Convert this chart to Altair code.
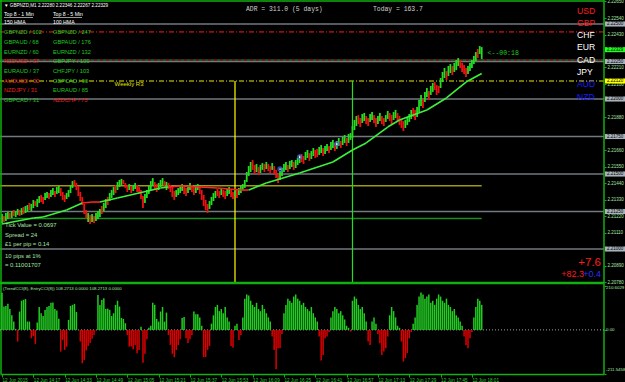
import altair as alt
import pandas as pd

BASE = 2.2
PT = 1e-5  # data below are in points (1e-5) above 2.20000

# ---- 1-minute candles (low / high in points above 2.20000) ----
lo = [1173,1180,1187,1200,1207,1207,1220,1213,1227,1220,
      1227,1233,1240,1247,1260,1253,1273,1287,1280,1307,
      1313,1300,1327,1340,1333,1347,1360,1347,1367,1373,
      1353,1327,1313,1333,1347,1373,1407,1420,1393,1353,
      1320,1293,1233,1200,1180,1167,1180,1173,1187,1200,
      1213,1233,1253,1273,1293,1320,1340,1360,1373,1393,
      1413,1427,1433,1407,1380,1393,1373,1387,1400,1380,
      1367,1333,1273,1307,1340,1367,1393,1420,1400,1380,
      1393,1413,1427,1407,1393,1400,1380,1347,1327,1347,
      1360,1373,1387,1367,1353,1373,1393,1380,1360,1373,
      1393,1367,1327,1287,1260,1240,1267,1293,1320,1340,
      1353,1340,1360,1347,1333,1353,1367,1347,1333,1353,
      1340,1360,1373,1393,1407,1447,1487,1513,1527,1500,
      1513,1493,1507,1527,1513,1533,1520,1507,1527,1500,
      1473,1440,1460,1487,1513,1527,1513,1533,1547,1527,
      1540,1560,1573,1580,1567,1593,1607,1587,1600,1620,
      1607,1613,1627,1640,1620,1633,1653,1640,1660,1673,
      1653,1667,1687,1673,1693,1707,1687,1707,1727,1740,
      1793,1820,1833,1813,1840,1853,1833,1820,1847,1860,
      1840,1813,1833,1853,1833,1820,1847,1867,1853,1833,
      1860,1873,1853,1827,1807,1787,1807,1827,1847,1867,
      1880,1860,1880,1913,1953,1940,1980,2013,1993,2027,
      2047,2060,2027,2040,2073,2113,2140,2127,2153,2173,
      2160,2180,2193,2220,2207,2180,2167,2147,2167,2187,
      2207,2233,2253,2273,2300,2267]
hi = [1233,1220,1240,1247,1240,1253,1260,1253,1267,1260,
      1273,1280,1287,1293,1307,1300,1327,1320,1333,1353,
      1360,1347,1373,1380,1373,1393,1407,1387,1413,1420,
      1407,1380,1360,1373,1393,1420,1453,1460,1440,1420,
      1380,1347,1300,1260,1240,1227,1233,1220,1240,1253,
      1267,1287,1307,1333,1347,1373,1393,1413,1427,1447,
      1460,1467,1460,1440,1427,1433,1420,1427,1440,1427,
      1413,1393,1353,1367,1393,1420,1453,1473,1447,1433,
      1440,1460,1473,1453,1447,1440,1427,1413,1387,1393,
      1407,1420,1433,1420,1407,1420,1440,1427,1413,1427,
      1433,1420,1393,1360,1327,1300,1320,1347,1373,1387,
      1400,1387,1407,1393,1387,1400,1413,1393,1380,1400,
      1393,1407,1420,1433,1460,1513,1553,1580,1593,1560,
      1567,1547,1560,1573,1567,1580,1567,1553,1573,1553,
      1527,1500,1520,1540,1567,1580,1560,1587,1593,1580,
      1593,1607,1627,1633,1620,1647,1660,1640,1653,1673,
      1660,1667,1680,1693,1673,1687,1700,1687,1713,1727,
      1707,1720,1740,1720,1747,1760,1740,1767,1773,1820,
      1860,1887,1893,1873,1900,1907,1887,1873,1900,1913,
      1893,1873,1887,1907,1887,1873,1893,1920,1907,1893,
      1913,1927,1907,1887,1867,1853,1860,1880,1900,1927,
      1940,1927,1947,1993,2027,2000,2047,2073,2053,2087,
      2107,2113,2093,2087,2140,2180,2207,2187,2220,2233,
      2220,2240,2260,2273,2260,2240,2227,2207,2220,2240,
      2260,2287,2313,2333,2353,2346]
dirs = ("GRGGRGRGGR" "GRGGRGGRGG" "RRGGRGGRGG" "RRRGGGGRRR" "RRRRGRGRGG"
        "GRGGRGGGRG" "GGRRRGRGGR" "RRRGGGGGRR" "GGGRGRRRRG" "GGGRRGGRRG"
        "GRRRRRGGGG" "RRGRRGGRRG" "RGGGGGGGRR" "GRGGRGRRGR" "RRGGGGRGGR"
        "GGGRRGGRGG" "RRGGRGGRGG" "RGGRGGRGGG" "GGRRGGRRGG" "RRGGRRGGRR"
        "GGRRRRGGGG" "RRGGGRGGRG" "GRRRGGGRGG" "RGGGRRRRGG" "GGGRGG")

# ---- CCI histogram ----
hist = [178,112,115,125,100,70,40,5,-56,88,140,144,148,40,40,-40,-29,-67,
        35,110,80,67,96,110,115,130,131,100,93,53,-104,-48,-96,-80,48,115,120,125,86,0,
        -56,-160,-144,-99,-77,-63,-43,-24,-3,
        168,120,144,152,100,102,96,67,80,120,140,112,57,53,32,
        -24,-80,-80,-93,-72,-112,-96,15,-157,-115,-45,
        10,20,130,120,53,40,88,110,40,83,
        -24,-72,-115,-131,-96,-72,-45,57,62,-40,-63,-45,-24,88,75,75,60,
        20,-130,-130,-96,-77,
        30,70,110,120,90,100,80,110,60,40,
        -77,-86,20,30,-48,-24,
        60,150,170,165,140,120,110,130,100,90,120,100,80,60,40,
        -32,-96,-189,-88,-88,-20,
        80,120,150,140,130,160,170,150,140,120,130,110,100,90,110,80,60,40,
        -32,-147,-120,-40,-32,-10,
        60,90,110,100,80,90,70,50,20,10,-8,
        140,160,150,120,100,110,80,40,-56,-72,40,60,30,
        -20,-64,-120,-104,-88,-32,
        70,110,90,60,20,10,
        -56,-152,-136,-112,-40,-10,
        30,60,120,160,180,170,150,160,170,130,140,120,150,170,160,140,130,150,120,110,90,100,70,60,40,20,
        -32,-72,-88,-40,-10,
        60,110,150,140,120]

# ---- moving average (points) ----
ma_idx = [0,16,21,33,41,46,50,59,70,81,85,92,110,122,126,135,152,169,179,186,197,203,217,227,237,245]
ma_pts = [1167,1207,1213,1260,1307,1313,1313,1340,1373,1407,1413,1420,1407,1393,1393,1440,1507,1580,1660,1707,1813,1860,1927,2007,2113,2170]
ma_dir = "GGGGRRGGGGRRRRGGGGGGGGGGG"

# ---- levels ----
grid_levels = [2.21000, 2.21250, 2.21500, 2.21750, 2.22000, 2.22250, 2.22500]
red_level = 2.22447
mixed_level = 2.22260
weekly_r3 = 2.22120
olive_level = 2.21422
green_level = 2.21203
bid = 2.22329
vline_idx = [119, 179]
vline_col = ["#ffff00", "#22dd22"]

marker_idx = [142, 152, 171]
marker_pts = [1533, 1613, 1700]

# tick labels that are not hidden under the price boxes
price_ticks = [2.20780, 2.20890, 2.21110, 2.21220, 2.21330, 2.21440, 2.21550, 2.21660,
               2.21880, 2.22100, 2.22210, 2.22430, 2.22540, 2.22650]
time_ticks = [0, 16, 32, 48, 64, 80, 96, 112, 128, 144, 160, 176, 192, 208, 224, 240]
time_labels = ["12 Jun 2015", "12 Jun 14:17", "12 Jun 14:33", "12 Jun 14:49", "12 Jun 15:05",
               "12 Jun 15:21", "12 Jun 15:37", "12 Jun 15:53", "12 Jun 16:09", "12 Jun 16:25",
               "12 Jun 16:41", "12 Jun 16:57", "12 Jun 17:13", "12 Jun 17:29", "12 Jun 17:45",
               "12 Jun 18:01"]
ind_ticks = [-211.5458, 0.0, 210.6029]
ind_labels = ["-211.5458", "0.00", "210.6029"]
ind_label_dy = [-4, 0, 1.5]

list_left = [("GBPNZD / 102", "g"), ("GBPAUD / 68", "g"), ("EURNZD / 60", "g"), ("NZDUSD / 37", "r"),
             ("EURAUD / 37", "g"), ("AUDUSD / 32", "r"), ("NZDJPY / 31", "r"), ("GBPCAD / 31", "g")]
list_right = [("GBPNZD / 247", "g"), ("GBPAUD / 176", "g"), ("EURNZD / 132", "g"), ("GBPJPY / 100", "g"),
              ("CHFJPY / 103", "g"), ("GBPCAD / 90", "g"), ("EURAUD / 85", "g"), ("NZDCHF / 75", "r")]
currencies = [("USD", "#ff1a1a"), ("GBP", "#ff1a1a"), ("CHF", "#ffffff"), ("EUR", "#ffffff"),
              ("CAD", "#ffffff"), ("JPY", "#ffffff"), ("AUD", "#1a1aff"), ("NZD", "#1a1aff")]
info_lines = ["Tick Value = 0.0697", "Spread = 24", "\u00a31 per pip = 0.14", "10 pips at 1%", "= 0.11001707"]

# ---------------------------------------------------------------
GREEN = "#22dd22"
RED = "#ee1111"
FRAME = "#10b010"
SANS = "Liberation Sans"
MONO = "Liberation Mono"

xs = alt.Scale(domain=[-1.02, 307.46], nice=False, zero=False)
ys = alt.Scale(domain=[2.2078, 2.2266], range=[282, 0], nice=False, zero=False)
yi = alt.Scale(domain=[-211.5458, 210.6029], range=[374, 286], nice=False, zero=False)

label_expr = "[" + ",".join("'%s'" % s for s in time_labels) + "][round(datum.value/16)]"
xax = alt.Axis(values=time_ticks, labelExpr=label_expr, orient="bottom", domainColor=FRAME,
               domainWidth=1.5, tickColor=FRAME, tickSize=3, labelColor="#33cc33", labelFont=SANS,
               labelFontSize=4.6, labelAlign="left", labelPadding=0, labelBaseline="top",
               grid=False, title=None, labelFlush=False, labelOverlap=False, labelBound=False)
yax = alt.Axis(values=price_ticks, format=".5f", orient="right", domain=False, tickColor=FRAME,
               tickSize=2, labelColor="#a8e8a8", labelFont=SANS, labelFontSize=4.5, labelPadding=1,
               grid=False, title=None, labelFlush=False, labelOverlap=False, labelBound=False)
iax = alt.Axis(values=ind_ticks, labels=False, orient="right", domain=False, tickColor=FRAME,
               tickSize=2, grid=False, title=None)

dummy = pd.DataFrame({"a": [0]})


def txt(s, px, py, color, size=5.5, font=SANS, align="left", weight="normal"):
    return alt.Chart(dummy).mark_text(text=s, x=px, y=py, color=color, fontSize=size, font=font,
                                      align=align, baseline="middle", fontWeight=weight)


def Y(field):
    return alt.Y(field, type="quantitative", scale=ys, axis=yax)


def X(field):
    return alt.X(field, type="quantitative", scale=xs, axis=xax)


n = len(lo)
cdf = pd.DataFrame({
    "i": list(range(n)),
    "lo": [BASE + v * PT for v in lo],
    "hi": [BASE + v * PT for v in hi],
    "col": [GREEN if d == "G" else RED for d in dirs],
})

ma_rows = []
for k in range(len(ma_idx) - 1):
    c = "#3cf03c" if ma_dir[k] == "G" else "#ff2222"
    ma_rows.append({"seg": k, "o": 0, "i": ma_idx[k], "p": BASE + ma_pts[k] * PT, "col": c})
    ma_rows.append({"seg": k, "o": 1, "i": ma_idx[k + 1], "p": BASE + ma_pts[k + 1] * PT, "col": c})
madf = pd.DataFrame(ma_rows)

layers = []
# gray round-number lines
layers.append(alt.Chart(pd.DataFrame({"p": grid_levels})).mark_rule(color="#727980", strokeWidth=1.6)
              .encode(y=Y("p")))
layers.append(alt.Chart(pd.DataFrame({"p": [red_level]})).mark_rule(color="#ff1a1a", strokeWidth=1,
              strokeDash=[5, 2, 1, 2]).encode(y=Y("p")))
layers.append(alt.Chart(pd.DataFrame({"p": [mixed_level]})).mark_rule(color="#2f8f2f", strokeWidth=1.2,
              strokeDash=[3, 3]).encode(y=Y("p")))
layers.append(alt.Chart(pd.DataFrame({"p": [mixed_level]})).mark_rule(color="#c02020", strokeWidth=1.2,
              strokeDash=[3, 3], strokeDashOffset=3).encode(y=Y("p")))
layers.append(alt.Chart(pd.DataFrame({"p": [weekly_r3]})).mark_rule(color="#e8e800", strokeWidth=1,
              strokeDash=[5, 2, 1, 2]).encode(y=Y("p")))
part = pd.DataFrame({"p": [olive_level, green_level], "x0": [-1.02, -1.02], "x1": [245, 245],
                     "col": ["#a09a10", "#1c8c1c"]})
layers.append(alt.Chart(part).mark_rule(strokeWidth=1.4).encode(
    y=Y("p"), x=X("x0"), x2="x1", color=alt.Color("col:N", scale=None)))
vdf = pd.DataFrame({"i": vline_idx, "top": [weekly_r3] * 2, "bot": [2.2078] * 2, "col": vline_col})
layers.append(alt.Chart(vdf).mark_rule(strokeWidth=1.2).encode(
    x=X("i"), y=Y("top"), y2="bot", color=alt.Color("col:N", scale=None)))
# candles
layers.append(alt.Chart(cdf).mark_rule(strokeWidth=1.8).encode(
    x=X("i"), y=Y("lo"), y2="hi", color=alt.Color("col:N", scale=None)))
# moving average
layers.append(alt.Chart(madf).mark_line(strokeWidth=1.6).encode(
    x=X("i"), y=Y("p"), color=alt.Color("col:N", scale=None), detail="seg:N", order="o:Q"))
# trade markers
mdf = pd.DataFrame({"i": marker_idx, "p": [BASE + v * PT for v in marker_pts]})
layers.append(alt.Chart(mdf).mark_point(shape="circle", filled=False, color="#4466ff", size=16,
              strokeWidth=1.4).encode(x=X("i"), y=Y("p")))
layers.append(alt.Chart(mdf).mark_point(shape="circle", filled=True, color="#ffffff", size=3, opacity=1)
              .encode(x=X("i"), y=Y("p")))
# right-axis price boxes
bdf = pd.DataFrame({
    "p": grid_levels + [bid, weekly_r3],
    "fill": ["#a9b2ba"] * len(grid_levels) + ["#22ff22", "#ffff00"],
    "lab": ["%.5f" % v for v in grid_levels + [bid, weekly_r3]],
})
bdf["t"] = bdf["p"] + 0.00017
bdf["b"] = bdf["p"] - 0.00017
layers.append(alt.Chart(bdf).mark_rect().encode(
    x=alt.value(605), x2=alt.value(625), y=Y("t"), y2="b", color=alt.Color("fill:N", scale=None)))
layers.append(alt.Chart(bdf).mark_text(align="left", baseline="middle", fontSize=4.5, font=SANS,
              color="#000000").encode(x=alt.value(607), y=Y("p"), text="lab:N"))
# current price label
layers.append(alt.Chart(pd.DataFrame({"i": [248], "p": [bid], "s": ["<--00:18"]})).mark_text(
    align="left", baseline="middle", fontSize=6.5, font=MONO, color="#22cc22", dy=3).encode(
    x=X("i"), y=Y("p"), text="s:N"))
layers.append(alt.Chart(pd.DataFrame({"i": [57.5], "p": [weekly_r3], "s": ["Weekly R3"]})).mark_text(
    align="left", baseline="top", fontSize=6, font=SANS, color="#e0e000", dy=0).encode(
    x=X("i"), y=Y("p"), text="s:N"))

# frame
layers.append(alt.Chart(dummy).mark_rule(color=FRAME, strokeWidth=1.5).encode(
    x=alt.value(0), x2=alt.value(604), y=alt.value(1)))
layers.append(alt.Chart(dummy).mark_rule(color=FRAME, strokeWidth=1.5).encode(
    x=alt.value(1), y=alt.value(0), y2=alt.value(374)))
layers.append(alt.Chart(dummy).mark_rule(color=FRAME, strokeWidth=1.5).encode(
    x=alt.value(604), y=alt.value(0), y2=alt.value(374)))
layers.append(alt.Chart(dummy).mark_rule(color=FRAME, strokeWidth=2.5).encode(
    x=alt.value(0), x2=alt.value(604), y=alt.value(283)))

# texts
layers.append(txt("\u25bc GBPNZD,M1  2.22280 2.22346 2.22267 2.22329", 4, 6, "#ffffff", 4.6))
layers.append(txt("Top 8 - 1 Min", 4, 14, "#ffffff", 5.2))
layers.append(txt("Top 8 - 5 Min", 53, 14, "#ffffff", 5.2))
layers.append(alt.Chart(dummy).mark_rule(color="#ffffff", strokeWidth=0.6).encode(
    x=alt.value(4), x2=alt.value(33), y=alt.value(17.5)))
layers.append(alt.Chart(dummy).mark_rule(color="#ffffff", strokeWidth=0.6).encode(
    x=alt.value(53), x2=alt.value(82), y=alt.value(17.5)))
layers.append(txt("150 HMA", 4, 22, "#ffffff", 5.2))
layers.append(txt("100 HMA", 53, 22, "#ffffff", 5.2))
row_y = [32, 42, 52, 61, 71, 81, 90, 100]
for (s, c), yy in zip(list_left, row_y):
    layers.append(txt(s, 4, yy, "#22c822" if c == "g" else "#e82020", 5.7))
for (s, c), yy in zip(list_right, row_y):
    layers.append(txt(s, 53, yy, "#22c822" if c == "g" else "#e82020", 5.7))
layers.append(txt("ADR = 311.0  (5 days)", 246, 9, "#d0d0d0", 6.4, MONO))
layers.append(txt("Today = 163.7", 373, 9, "#d0d0d0", 6.4, MONO))
cur_y = [11, 23, 35, 47, 60, 72, 84, 97]
for (s, c), yy in zip(currencies, cur_y):
    layers.append(txt(s, 577, yy, c, 8.6))
info_y = [225, 234.5, 244, 256, 265]
for s, yy in zip(info_lines, info_y):
    layers.append(txt(s, 5, yy, "#a6e6a6", 5.9))
layers.append(txt("+7.6", 601, 263, "#ff1a1a", 11.5, align="right"))
layers.append(txt("+0.4", 601, 273.5, "#2233ff", 9, align="right"))
layers.append(txt("+82.3", 584, 273.5, "#ff1a1a", 9, align="right"))
layers.append(txt("(TrendCCI(8), EntryCCI(8)) 108.2713 0.0000 108.2713 0.0000", 3, 289, "#a6e6a6", 4.3))

main = alt.layer(*layers)

# indicator panel
hdf = pd.DataFrame({"i": list(range(len(hist))), "v": hist, "z": [0] * len(hist),
                    "col": ["#22cc22" if v >= 0 else "#dd0000" for v in hist]})
ildf = pd.DataFrame({"v": ind_ticks, "lab": ind_labels, "dy": ind_label_dy})
ind_layers = [
    alt.Chart(pd.DataFrame({"v": [0.0]})).mark_rule(color="#a0a0a0", strokeWidth=1, strokeDash=[1, 2])
    .encode(y=alt.Y("v:Q", scale=yi, axis=iax)),
    alt.Chart(hdf).mark_rule(strokeWidth=1.5).encode(
        x=X("i"), y=alt.Y("v:Q", scale=yi, axis=iax), y2="z", color=alt.Color("col:N", scale=None)),
]
for k in range(len(ind_ticks)):
    ind_layers.append(alt.Chart(ildf.iloc[[k]]).mark_text(
        align="left", baseline="middle", fontSize=4.4, font=SANS, color="#a8e8a8",
        dy=ind_label_dy[k]).encode(x=alt.value(606), y=alt.Y("v:Q", scale=yi, axis=iax), text="lab:N"))
ind = alt.layer(*ind_layers)

chart = alt.layer(main, ind).resolve_scale(y="independent").properties(
    width=604, height=374,
    autosize=alt.AutoSizeParams(type="none"),
    padding={"left": 0, "top": 0, "right": 21, "bottom": 8},
    background="#000000",
).configure_view(stroke=None)

chart.save("out.html", embed_options={"renderer": "svg", "actions": False})
